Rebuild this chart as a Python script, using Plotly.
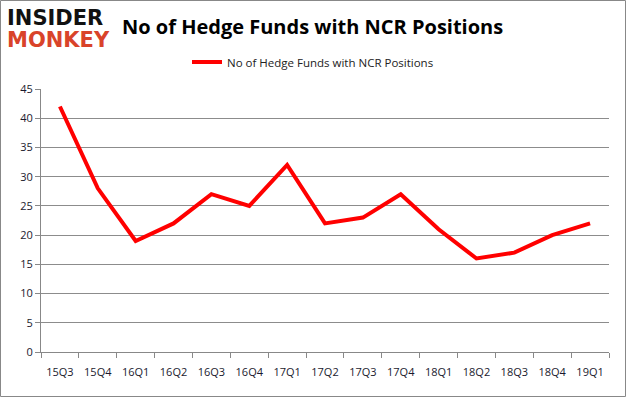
import plotly.graph_objects as go

quarters = ["15Q3", "15Q4", "16Q1", "16Q2", "16Q3", "16Q4", "17Q1", "17Q2",
            "17Q3", "17Q4", "18Q1", "18Q2", "18Q3", "18Q4", "19Q1"]
hedge_funds = [42, 28, 19, 22, 27, 25, 32, 22, 23, 27, 21, 16, 17, 20, 22]
series_name = "No of Hedge Funds with NCR Positions"
title_text = "No of Hedge Funds with NCR Positions"

W, H = 626, 397
L, R, T, B = 41, 17, 89, 45
pw, ph = W - L - R, H - T - B

def px(x):
    return (x - L) / pw

def py(y):
    return (H - B - y) / ph

fig = go.Figure()
fig.add_trace(go.Scatter(
    x=quarters, y=hedge_funds, mode="lines", name=series_name,
    line=dict(color="#ff0000", width=4),
))

label_font = dict(family="Open Sans, DejaVu Sans, sans-serif", size=11, color="#1a1a2e")

fig.update_layout(
    width=W, height=H,
    margin=dict(l=L, r=R, t=T, b=B),
    paper_bgcolor="white", plot_bgcolor="white",
    showlegend=True,
    legend=dict(orientation="h", x=px(313), xanchor="center", y=py(62), yanchor="middle",
                font=dict(family="Open Sans, DejaVu Sans, sans-serif", size=11.5, color="#222"),
                itemwidth=30),
    xaxis=dict(type="category", range=[-0.5, len(quarters) - 0.5], showgrid=False,
               showline=True, linecolor="#888",
               linewidth=1, ticks="outside", tickson="boundaries", ticklen=5,
               tickcolor="#888", tickfont=label_font, ticklabelstandoff=10),
    yaxis=dict(range=[0, 45], dtick=5, showgrid=True, gridcolor="#8c8c8c", gridwidth=1,
               showline=True, linecolor="#888", linewidth=1, ticks="outside",
               ticklen=5, tickcolor="#888", tickfont=label_font, zeroline=False),
    annotations=[
        dict(text="<b>" + title_text + "</b>", xref="paper", yref="paper",
             x=px(312), y=py(26), xanchor="center", yanchor="middle", showarrow=False,
             font=dict(family="Open Sans, DejaVu Sans, sans-serif", size=20, color="#000")),
        dict(text="<b>INSIDER</b>", xref="paper", yref="paper",
             x=px(5), y=py(18), xanchor="left", yanchor="middle", showarrow=False,
             font=dict(family="DejaVu Sans, sans-serif", size=21, color="#111")),
        dict(text="<b>MONKEY</b>", xref="paper", yref="paper",
             x=px(5), y=py(40), xanchor="left", yanchor="middle", showarrow=False,
             font=dict(family="DejaVu Sans, sans-serif", size=21, color="#d9432a")),
    ],
    shapes=[
        dict(type="rect", xref="paper", yref="paper", x0=px(0.5), x1=px(625.5),
             y0=py(396.5), y1=py(0.5), line=dict(color="#888", width=1)),
    ],
)

fig.write_html("out.html", config={"displayModeBar": False},
               post_script="document.body.style.margin='0';document.body.style.overflow='hidden';")
